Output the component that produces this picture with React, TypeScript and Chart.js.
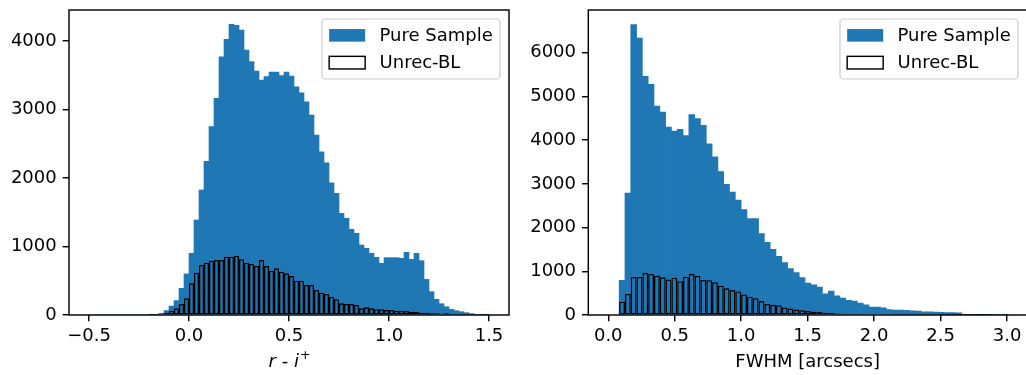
import React, { useEffect, useRef } from 'react';
import { Chart, registerables } from 'chart.js';

Chart.register(...registerables);

const BLUE = '#1f77b4';
const FONT = '"DejaVu Sans", sans-serif';
const FS = 18;

// ---------- Left panel: r - i+ ----------
const L_BIN_START = -0.5;
const L_BIN_WIDTH = 0.025;
const L_PURE = [
  0, 0, 0, 0, 0, 0, 0, 0, 0, 0,
  0, 0, 3, 8, 25, 65, 130, 210, 390, 600,
  900, 1387, 1825, 2243, 2750, 3163, 3770, 4025, 4243, 4230,
  4160, 3868, 3700, 3562, 3431, 3480, 3547, 3547, 3494, 3547,
  3490, 3333, 3245, 3114, 2920, 2628, 2384, 2223, 1931, 1776,
  1484, 1412, 1251, 1193, 1022, 974, 901, 842, 755, 837,
  837, 837, 827, 915, 813, 900, 793, 520, 340, 230,
  165, 121, 83, 63, 48, 34, 20, 10, 6, 3,
];
const L_UNREC = [
  0, 0, 0, 0, 0, 0, 0, 0, 0, 0,
  0, 0, 0, 3, 10, 34, 63, 97, 160, 243,
  462, 618, 730, 764, 793, 803, 803, 852, 852, 861,
  813, 764, 745, 715, 803, 715, 647, 681, 632, 608,
  569, 501, 501, 438, 438, 365, 326, 307, 268, 229,
  170, 160, 160, 146, 97, 112, 97, 83, 83, 73,
  73, 63, 63, 58, 48, 43, 34, 34, 24, 24,
  20, 24, 15, 10, 5, 3, 2, 0, 0, 0,
];
const L_XTICKS = [-0.5, 0, 0.5, 1, 1.5];
const L_XTICK_LABELS = ['\u22120.5', '0.0', '0.5', '1.0', '1.5'];
const L_YTICKS = [0, 1000, 2000, 3000, 4000];
const L_YTICK_LABELS = ['0', '1000', '2000', '3000', '4000'];
// x label  "r - i^+"  as math-text parts: [text, style]
const L_TITLE_PARTS: [string, string][] = [
  ['r', 'italic'],
  [' - ', 'normal'],
  ['i', 'italic'],
  ['+', 'sup'],
];

// ---------- Right panel: FWHM ----------
const R_BIN_START = 0.082;
const R_BIN_WIDTH = 0.0437;
const R_PURE = [
  793, 2790, 6645, 6339, 5462, 5279, 4783, 4645, 4302, 4211,
  4249, 4105, 4586, 4494, 4341, 3915, 3620, 3280, 2990, 2815,
  2630, 2410, 2205, 2205, 1862, 1665, 1500, 1340, 1200, 1062,
  970, 856, 732, 690, 641, 485, 549, 440, 385, 336,
  320, 270, 235, 183, 183, 165, 124, 112, 110, 105,
  95, 92, 75, 72, 68, 62, 58, 55, 50, 18,
  14, 12, 10, 16, 12, 15, 6,
];
const R_UNREC = [
  305, 480, 870, 870, 965, 940, 900, 862, 810, 855,
  775, 878, 940, 892, 800, 795, 752, 668, 610, 570,
  540, 470, 420, 385, 318, 250, 232, 222, 170, 146,
  124, 107, 92, 72, 69, 50, 46, 35, 30, 28,
  25, 22, 20, 18, 15, 12, 10, 8, 8, 6,
  6, 5, 4, 3, 3, 2, 2, 2, 1, 1,
  1, 1, 1, 1, 0, 0, 0,
];
const R_XTICKS = [0, 0.5, 1, 1.5, 2, 2.5, 3];
const R_XTICK_LABELS = ['0.0', '0.5', '1.0', '1.5', '2.0', '2.5', '3.0'];
const R_YTICKS = [0, 1000, 2000, 3000, 4000, 5000, 6000];
const R_YTICK_LABELS = ['0', '1000', '2000', '3000', '4000', '5000', '6000'];
const R_TITLE_PARTS: [string, string][] = [['FWHM [arcsecs]', 'normal']];

const SERIES_LABELS = ['Pure Sample', 'Unrec-BL'];

type Cfg = {
  binStart: number;
  binWidth: number;
  pure: number[];
  unrec: number[];
  xMin: number;
  xMax: number;
  yMax: number;
  xTicks: number[];
  xTickLabels: string[];
  yTicks: number[];
  yTickLabels: string[];
  titleParts: [string, string][];
  yAxisWidth: number;
  padRight: number;
};

const framePlugin = {
  id: 'mplFrame',
  afterDraw(chart: any) {
    const { ctx, chartArea } = chart;
    ctx.save();
    ctx.strokeStyle = '#000';
    ctx.lineWidth = 1.44;
    ctx.strokeRect(chartArea.left, chartArea.top, chartArea.right - chartArea.left, chartArea.bottom - chartArea.top);
    ctx.restore();
  },
};

// x-axis label drawn as simple math text (italic symbols + superscript)
const mathTitlePlugin = {
  id: 'mathTitle',
  afterDraw(chart: any, _args: any, opts: any) {
    const parts: [string, string][] = opts.parts || [];
    if (!parts.length) return;
    const { ctx, chartArea } = chart;
    ctx.save();
    const fontFor = (style: string) => {
      if (style === 'italic') return `italic ${FS}px ${FONT}`;
      if (style === 'sup') return `${FS * 0.7}px ${FONT}`;
      return `${FS}px ${FONT}`;
    };
    let total = 0;
    const widths = parts.map(([t, s]) => {
      ctx.font = fontFor(s);
      const w = ctx.measureText(t).width;
      total += w;
      return w;
    });
    const cx = (chartArea.left + chartArea.right) / 2;
    const baseY = opts.baseline;
    let x = cx - total / 2;
    ctx.fillStyle = '#000';
    ctx.textBaseline = 'alphabetic';
    ctx.textAlign = 'left';
    parts.forEach(([t, s], i) => {
      ctx.font = fontFor(s);
      const dy = s === 'sup' ? -FS * 0.42 : 0;
      ctx.fillText(t, x + (s === 'sup' ? 1 : 0), baseY + dy);
      x += widths[i];
    });
    ctx.restore();
  },
};

const legendPlugin = {
  id: 'mplLegend',
  afterDraw(chart: any) {
    const { ctx, chartArea } = chart;
    const ds = chart.data.datasets;
    ctx.save();
    ctx.font = `${FS}px ${FONT}`;
    const pad = 7.2, hl = 36, hh = 12.6, gap = 14.4, rowH = 18.3, sp = 9, axPad = 9;
    const textW = Math.max(...ds.map((d: any) => ctx.measureText(d.label).width));
    const w = pad + hl + gap + textW + pad;
    const h = pad * 2 + rowH * ds.length + sp * (ds.length - 1);
    const x = chartArea.right - axPad - w;
    const y = chartArea.top + axPad;
    const r = 3.6;
    ctx.beginPath();
    ctx.moveTo(x + r, y);
    ctx.lineTo(x + w - r, y);
    ctx.arcTo(x + w, y, x + w, y + r, r);
    ctx.lineTo(x + w, y + h - r);
    ctx.arcTo(x + w, y + h, x + w - r, y + h, r);
    ctx.lineTo(x + r, y + h);
    ctx.arcTo(x, y + h, x, y + h - r, r);
    ctx.lineTo(x, y + r);
    ctx.arcTo(x, y, x + r, y, r);
    ctx.closePath();
    ctx.fillStyle = 'rgba(255,255,255,0.8)';
    ctx.fill();
    ctx.strokeStyle = '#cccccc';
    ctx.lineWidth = 1.2;
    ctx.stroke();
    ds.forEach((d: any, i: number) => {
      const cy = y + pad + rowH / 2 + i * (rowH + sp);
      if (d.legendFilled) {
        ctx.fillStyle = d.backgroundColor;
        ctx.fillRect(x + pad, cy - hh / 2, hl, hh);
      } else {
        ctx.fillStyle = '#fff';
        ctx.fillRect(x + pad, cy - hh / 2, hl, hh);
        ctx.strokeStyle = '#000';
        ctx.lineWidth = 1.44;
        ctx.strokeRect(x + pad, cy - hh / 2, hl, hh);
      }
      ctx.fillStyle = '#000';
      ctx.textBaseline = 'middle';
      ctx.textAlign = 'left';
      ctx.fillText(d.label, x + pad + hl + gap, cy + 1);
    });
    ctx.restore();
  },
};

function buildConfig(cfg: Cfg): any {
  const centers = cfg.pure.map((_, i) => cfg.binStart + cfg.binWidth * (i + 0.5));
  const tickFont = { family: FONT, size: FS };
  const lookup = (vals: number[], labels: string[]) => (v: any) => {
    const i = vals.findIndex((t) => Math.abs(t - Number(v)) < 1e-9);
    return i >= 0 ? labels[i] : '';
  };
  return {
    type: 'bar',
    data: {
      datasets: [
        {
          label: SERIES_LABELS[0],
          data: centers.map((x, i) => ({ x, y: cfg.pure[i] })),
          backgroundColor: BLUE,
          borderWidth: 0,
          order: 1,
          grouped: false,
          barPercentage: 1,
          categoryPercentage: 1,
          legendFilled: true,
        },
        {
          label: SERIES_LABELS[1],
          data: centers.map((x, i) => ({ x, y: cfg.unrec[i] })),
          backgroundColor: 'rgba(0,0,0,0)',
          borderColor: '#000',
          borderWidth: 1.3,
          borderSkipped: false,
          inflateAmount: 0,
          order: 0,
          grouped: false,
          barPercentage: 1,
          categoryPercentage: 1,
          legendFilled: false,
        },
      ],
    },
    options: {
      responsive: false,
      animation: false,
      events: [],
      layout: { padding: { left: 0, right: cfg.padRight, top: 10, bottom: 0 } },
      plugins: {
        legend: { display: false },
        tooltip: { enabled: false },
        title: { display: false },
        mathTitle: { parts: cfg.titleParts, baseline: 367 },
      },
      scales: {
        x: {
          type: 'linear',
          min: cfg.xMin,
          max: cfg.xMax,
          offset: false,
          afterFit: (s: any) => {
            s.height = 60;
            s.paddingLeft = 0;
            s.paddingRight = 0;
          },
          afterBuildTicks: (s: any) => { s.ticks = cfg.xTicks.map((v) => ({ value: v })); },
          ticks: {
            callback: lookup(cfg.xTicks, cfg.xTickLabels),
            color: '#000',
            font: tickFont,
            padding: 4,
            maxRotation: 0,
            autoSkip: false,
          },
          grid: {
            drawOnChartArea: false,
            drawTicks: true,
            tickLength: 6.3,
            tickColor: '#000',
            lineWidth: 1.44,
            offset: false,
          },
          border: { display: false },
          title: { display: false },
        },
        y: {
          type: 'linear',
          min: 0,
          max: cfg.yMax,
          afterFit: (s: any) => {
            s.width = cfg.yAxisWidth;
            s.paddingTop = 0;
            s.paddingBottom = 0;
          },
          afterBuildTicks: (s: any) => { s.ticks = cfg.yTicks.map((v) => ({ value: v })); },
          ticks: {
            callback: lookup(cfg.yTicks, cfg.yTickLabels),
            color: '#000',
            font: tickFont,
            padding: 6,
            autoSkip: false,
          },
          grid: {
            drawOnChartArea: false,
            drawTicks: true,
            tickLength: 6.3,
            tickColor: '#000',
            lineWidth: 1.44,
          },
          border: { display: false },
        },
      },
    },
    plugins: [framePlugin, legendPlugin, mathTitlePlugin],
  };
}

const LEFT_CFG: Cfg = {
  binStart: L_BIN_START,
  binWidth: L_BIN_WIDTH,
  pure: L_PURE,
  unrec: L_UNREC,
  xMin: -0.6,
  xMax: 1.6,
  yMax: 4453,
  xTicks: L_XTICKS,
  xTickLabels: L_XTICK_LABELS,
  yTicks: L_YTICKS,
  yTickLabels: L_YTICK_LABELS,
  titleParts: L_TITLE_PARTS,
  yAxisWidth: 69,
  padRight: 4,
};

const RIGHT_CFG: Cfg = {
  binStart: R_BIN_START,
  binWidth: R_BIN_WIDTH,
  pure: R_PURE,
  unrec: R_UNREC,
  xMin: -0.15,
  xMax: 3.15,
  yMax: 6979,
  xTicks: R_XTICKS,
  xTickLabels: R_XTICK_LABELS,
  yTicks: R_YTICKS,
  yTickLabels: R_YTICK_LABELS,
  titleParts: R_TITLE_PARTS,
  yAxisWidth: 75.3,
  padRight: 6,
};

function HistChart({ cfg, left, width }: { cfg: Cfg; left: number; width: number }) {
  const ref = useRef<HTMLCanvasElement>(null);
  useEffect(() => {
    const chart = new Chart(ref.current as HTMLCanvasElement, buildConfig(cfg));
    return () => chart.destroy();
  }, [cfg]);
  return (
    <canvas
      ref={ref}
      width={width}
      height={375}
      style={{ position: 'absolute', left, top: 0, width, height: 375 }}
    />
  );
}

export default function App() {
  return (
    <div
      style={{
        position: 'fixed',
        left: 0,
        top: 0,
        width: 1026,
        height: 375,
        overflow: 'hidden',
        background: '#fff',
      }}
    >
      <HistChart cfg={LEFT_CFG} left={0} width={513} />
      <HistChart cfg={RIGHT_CFG} left={513} width={520} />
    </div>
  );
}
